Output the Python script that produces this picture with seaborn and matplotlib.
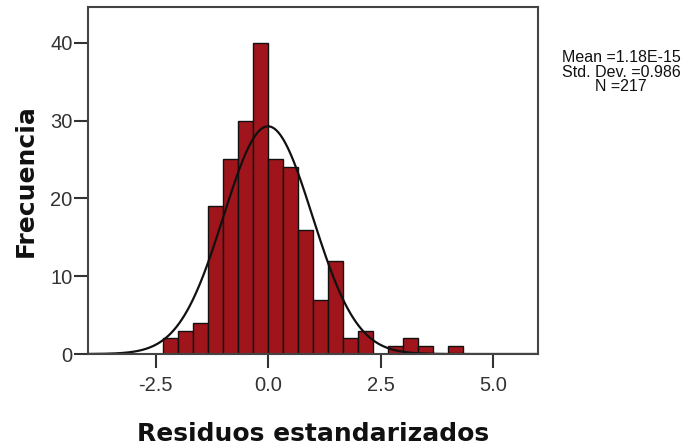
import numpy as np
import pandas as pd
import matplotlib.pyplot as plt
import seaborn as sns

# Histogram of standardized residuals
bin_start = -7 / 3
bin_width = 1 / 3
counts = [2, 3, 4, 19, 25, 30, 40, 25, 24, 16, 7, 12, 2, 3, 0, 1, 2, 1, 0, 1]

mean_val = 1.18e-15
std_val = 0.986
n_obs = 217

x_ticks = [-2.5, 0.0, 2.5, 5.0]
y_ticks = [0, 10, 20, 30, 40]

edges = [bin_start + i * bin_width for i in range(len(counts) + 1)]
centers = [bin_start + (i + 0.5) * bin_width for i in range(len(counts))]
df = pd.DataFrame({'residuo': centers, 'n': counts})

# normal curve scaled to the histogram
xs = np.linspace(-4, 6, 500)
ys = n_obs * bin_width * np.exp(-0.5 * ((xs - mean_val) / std_val) ** 2) / (std_val * np.sqrt(2 * np.pi))
curve = pd.DataFrame({'x': xs, 'y': ys})

sns.set_style('white')
plt.rcParams['font.family'] = ['Liberation Sans', 'DejaVu Sans']

fig = plt.figure(figsize=(6.99, 4.45), dpi=100)
ax = fig.add_axes([88 / 699, 1 - 354 / 445, 450 / 699, 347 / 445])

sns.histplot(data=df, x='residuo', weights='n', bins=edges, color='#a0151b',
             edgecolor='#111111', linewidth=1.0, alpha=1, ax=ax)
sns.lineplot(data=curve, x='x', y='y', color='#111111', linewidth=1.6, ax=ax)

ax.set_xlim(-4, 6)
ax.set_ylim(0, 44.6)
ax.set_xticks(x_ticks)
ax.set_xticklabels(['%.1f' % t for t in x_ticks])
ax.set_yticks(y_ticks)
ax.tick_params(axis='both', direction='out', length=10, width=1.5, color='#333333',
               labelsize=14.5, labelcolor='#333333', left=True, bottom=True)
ax.tick_params(axis='x', pad=6)
ax.tick_params(axis='y', pad=1)
for s in ax.spines.values():
    s.set_color('#444444')
    s.set_linewidth(1.5)

ax.set_xlabel('Residuos estandarizados', fontsize=18, fontweight='bold',
              family=['DejaVu Sans'], labelpad=19, color='#111111')
ax.set_ylabel('Frecuencia', fontsize=18, fontweight='bold',
              family=['DejaVu Sans'], labelpad=9, color='#111111')

stats = 'Mean =%.2fE-15\nStd. Dev. =%.3f\nN =%d' % (mean_val * 1e15, std_val, n_obs)
fig.text(621 / 699, 1 - 50 / 445, stats, ha='center', va='top', fontsize=11.5,
         linespacing=0.97, color='#111111')

fig.savefig('out.png', dpi=100)
